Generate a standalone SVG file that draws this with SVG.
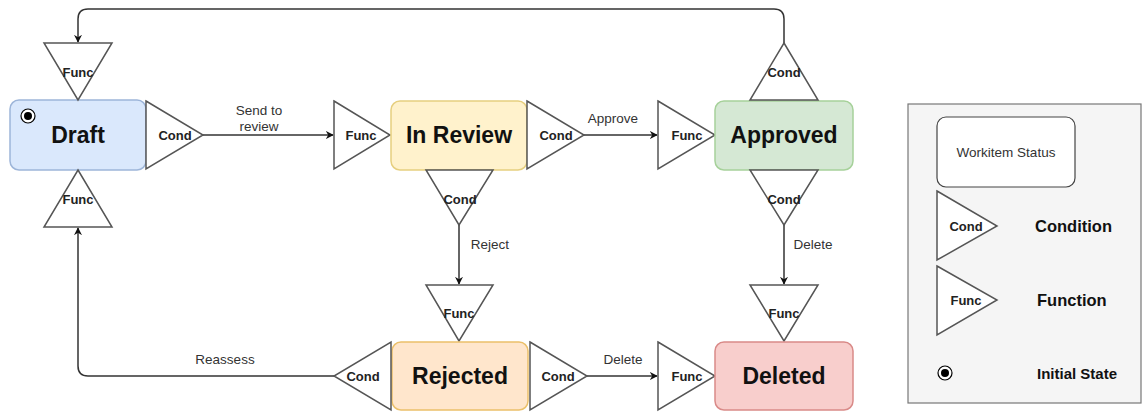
<svg xmlns="http://www.w3.org/2000/svg" width="1143" height="415" viewBox="0 0 1143 415">
  <defs>
    <style>
      .tri { fill: #ffffff; stroke: #555555; stroke-width: 1.5; }
      .tl { font-family: "Liberation Sans", Arial, sans-serif; font-size: 13px; font-weight: bold; fill: #222; text-anchor: middle; dominant-baseline: central; }
      .bl { font-family: "Liberation Sans", Arial, sans-serif; font-size: 23px; font-weight: bold; fill: #111; text-anchor: middle; dominant-baseline: central; }
      .el { font-family: "Liberation Sans", Arial, sans-serif; font-size: 13.5px; fill: #333; text-anchor: middle; dominant-baseline: central; }
      .conn { fill: none; stroke: #333333; stroke-width: 1.5; }
      .lg { font-family: "Liberation Sans", Arial, sans-serif; font-size: 16.5px; font-weight: bold; fill: #111; dominant-baseline: central; }
    </style>
    <marker id="arrow" viewBox="0 0 10 10" refX="9" refY="5" markerWidth="8" markerHeight="8" markerUnits="userSpaceOnUse" orient="auto">
      <path d="M0,0 L10,5 L0,10 L3,5 Z" fill="#111"/>
    </marker>
  </defs>
  <rect width="1143" height="415" fill="#ffffff"/>

  <!-- connectors -->
  <g id="connectors">
    <path class="conn" d="M784,43 V19 Q784,9 774,9 H88 Q78,9 78,19 V42" marker-end="url(#arrow)"/>
    <path class="conn" d="M203,135 H333" marker-end="url(#arrow)"/>
    <text class="el" x="259" y="110">Send to</text>
    <text class="el" x="259" y="126">review</text>
    <path class="conn" d="M584,135 H657" marker-end="url(#arrow)"/>
    <text class="el" x="613" y="118">Approve</text>
    <path class="conn" d="M459,225 V284" marker-end="url(#arrow)"/>
    <text class="el" x="490" y="244">Reject</text>
    <path class="conn" d="M784,225 V284" marker-end="url(#arrow)"/>
    <text class="el" x="813" y="244">Delete</text>
    <path class="conn" d="M587,376 H657" marker-end="url(#arrow)"/>
    <text class="el" x="623" y="359">Delete</text>
    <path class="conn" d="M334,376 H88 Q78,376 78,366 V228" marker-end="url(#arrow)"/>
    <text class="el" x="225" y="359">Reassess</text>
  </g>

  <!-- Draft -->
  <g id="draft">
    <rect x="10" y="100" width="136" height="70" rx="9" fill="#dae8fc" stroke="#9db5d9" stroke-width="1.5"/>
    <text class="bl" x="78" y="135">Draft</text>
    <circle cx="28" cy="116" r="7" fill="#fff" stroke="#000" stroke-width="1.2"/>
    <circle cx="28" cy="116" r="4" fill="#000"/>
  </g>
  <g id="draft-func-top">
    <polygon class="tri" points="44,43 112,43 78,100"/>
    <text class="tl" x="78" y="72">Func</text>
  </g>
  <g id="draft-func-bottom">
    <polygon class="tri" points="78,170 112,227 44,227"/>
    <text class="tl" x="78" y="199">Func</text>
  </g>
  <g id="draft-cond">
    <polygon class="tri" points="146,101 203,135 146,169"/>
    <text class="tl" x="175" y="135">Cond</text>
  </g>

  <!-- In Review -->
  <g id="review-func">
    <polygon class="tri" points="334,101 390,135 334,169"/>
    <text class="tl" x="361" y="135">Func</text>
  </g>
  <g id="in-review">
    <rect x="391" y="101" width="136" height="69" rx="9" fill="#fff2cc" stroke="#e6cf7f" stroke-width="1.5"/>
    <text class="bl" x="459" y="135">In Review</text>
  </g>
  <g id="review-cond-right">
    <polygon class="tri" points="527,101 584,135 527,169"/>
    <text class="tl" x="556" y="135">Cond</text>
  </g>
  <g id="review-cond-down">
    <polygon class="tri" points="426,170 493,170 459,225"/>
    <text class="tl" x="460" y="199">Cond</text>
  </g>

  <!-- Approved -->
  <g id="approved-func">
    <polygon class="tri" points="658,101 715,135 658,169"/>
    <text class="tl" x="687" y="135">Func</text>
  </g>
  <g id="approved">
    <rect x="715" y="101" width="138" height="69" rx="9" fill="#d5e8d4" stroke="#a6d19a" stroke-width="1.5"/>
    <text class="bl" x="784" y="135">Approved</text>
  </g>
  <g id="approved-cond-top">
    <polygon class="tri" points="784,43 818,100 750,100"/>
    <text class="tl" x="784" y="72">Cond</text>
  </g>
  <g id="approved-cond-down">
    <polygon class="tri" points="750,170 818,170 784,225"/>
    <text class="tl" x="784" y="199">Cond</text>
  </g>

  <!-- Rejected -->
  <g id="rejected-func">
    <polygon class="tri" points="426,285 493,285 459,341"/>
    <text class="tl" x="459" y="313">Func</text>
  </g>
  <g id="rejected">
    <rect x="392" y="342" width="136" height="68" rx="9" fill="#ffe6cc" stroke="#ebc06a" stroke-width="1.5"/>
    <text class="bl" x="460" y="376">Rejected</text>
  </g>
  <g id="rejected-cond-left">
    <polygon class="tri" points="391,342 391,410 334,376"/>
    <text class="tl" x="363" y="376">Cond</text>
  </g>
  <g id="rejected-cond-right">
    <polygon class="tri" points="530,342 587,376 530,410"/>
    <text class="tl" x="558" y="376">Cond</text>
  </g>

  <!-- Deleted -->
  <g id="deleted-func-left">
    <polygon class="tri" points="658,342 715,376 658,410"/>
    <text class="tl" x="687" y="376">Func</text>
  </g>
  <g id="deleted-func-top">
    <polygon class="tri" points="750,285 818,285 784,341"/>
    <text class="tl" x="784" y="313">Func</text>
  </g>
  <g id="deleted">
    <rect x="715" y="342" width="138" height="68" rx="9" fill="#f8cecc" stroke="#d98a88" stroke-width="1.5"/>
    <text class="bl" x="784" y="376">Deleted</text>
  </g>

  <!-- Legend -->
  <g id="legend">
    <rect x="908" y="104" width="233" height="299" fill="#f5f5f5" stroke="#777777" stroke-width="1.2"/>
    <rect x="937" y="117" width="138" height="70" rx="9" fill="#ffffff" stroke="#444444" stroke-width="1.2"/>
    <text x="1006" y="152" font-family="Liberation Sans, Arial, sans-serif" font-size="13.5" fill="#333" text-anchor="middle" dominant-baseline="central">Workitem Status</text>
    <polygon class="tri" points="937,191 997,226 937,260"/>
    <text class="tl" x="966" y="226">Cond</text>
    <text class="lg" x="1035" y="226">Condition</text>
    <polygon class="tri" points="937,266 997,300 937,335"/>
    <text class="tl" x="966" y="300">Func</text>
    <text class="lg" x="1037" y="300">Function</text>
    <circle cx="945" cy="373" r="7" fill="#fff" stroke="#000" stroke-width="1.2"/>
    <circle cx="945" cy="373" r="4" fill="#000"/>
    <text class="lg" x="1037" y="373" style="font-size:15px">Initial State</text>
  </g>
</svg>
